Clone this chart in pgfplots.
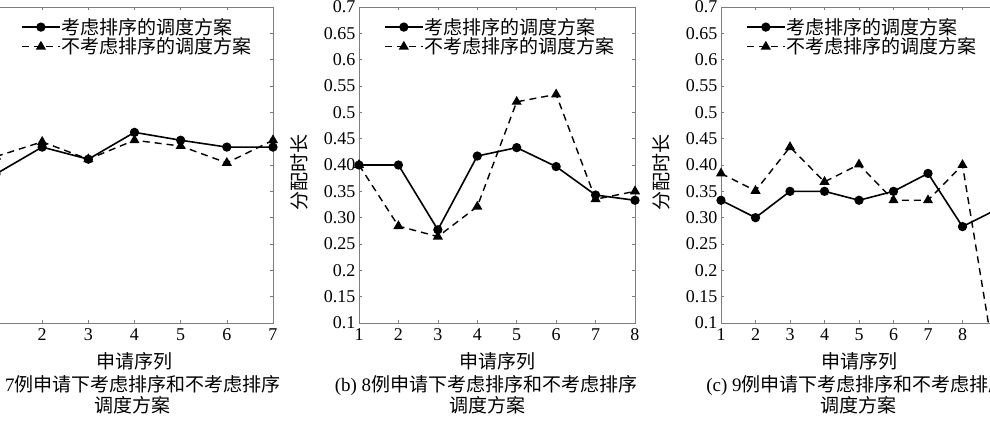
\documentclass[border=0pt]{standalone}
\usepackage{fontspec}
\setmainfont{Liberation Serif}
\newfontfamily\cjk{Noto Sans CJK SC}
\usepackage{pgfplots}
\pgfplotsset{compat=1.18}
\definecolor{framegray}{RGB}{125,125,125}
\pgfplotsset{
  myax/.style={
    scale only axis, width=276pt, height=316pt, anchor=south west,
    ymin=0.1, ymax=0.7, xmin=1,
    ytick={0.1,0.15,0.2,0.25,0.3,0.35,0.4,0.45,0.5,0.55,0.6,0.65,0.7},
    yticklabels={0.1,0.15,0.2,0.25,0.30,0.35,0.40,0.45,0.5,0.55,0.6,0.65,0.7},
    xtick={1,...,9},
    axis line style={framegray, line width=0.8pt},
    tick style={framegray, line width=0.6pt},
    major tick length=3pt,
    tick align=inside,
    ticklabel style={font=\fontsize{18}{20}\selectfont, text=black},
    /pgf/number format/assume math mode=true,
    xticklabel style={yshift=-2pt},
    xlabel={\cjk 申请序列}, ylabel={\cjk 分配时长},
    label style={font=\fontsize{19}{21}\selectfont},
    xlabel style={at={(axis description cs:0.5,-0.12)}, anchor=center},
    ylabel style={at={(axis description cs:-0.215,0.476)}, anchor=center},
    legend style={at={(axis description cs:0.09,0.968)}, anchor=north west, draw=none, fill=none, inner sep=0pt,
      font=\fontsize{19}{21}\selectfont\cjk, nodes={inner sep=1pt}, row sep=0pt},
    legend cell align=left,
    legend image code/.code={\draw[mark repeat=2,mark phase=2] plot coordinates {(0pt,0pt)(19pt,0pt)(38pt,0pt)};},
  },
  s1/.style={black, solid, line width=1.6pt, mark=*, mark size=3.8pt, mark options={solid}},
  s2/.style={black, line width=1.4pt, dash pattern=on 7pt off 5pt, mark=triangle*, mark size=4.5pt, mark options={solid}},
}
\begin{document}
\begin{tikzpicture}
\useasboundingbox (0pt,0pt) rectangle (990pt,422pt);
\clip (0pt,0pt) rectangle (990pt,422pt);
% (a)
\begin{axis}[myax, at={(-4pt,99pt)}, width=277pt, xmax=7]
\addplot[s1] coordinates {(1,0.383)(2,0.434)(3,0.411)(4,0.462)(5,0.447)(6,0.434)(7,0.434)};
\addplot[s2] coordinates {(1,0.416)(2,0.444)(3,0.411)(4,0.447)(5,0.436)(6,0.404)(7,0.447)};
\legend{考虑排序的调度方案,不考虑排序的调度方案}
\end{axis}
% (b)
\begin{axis}[myax, at={(359pt,99pt)}, xmax=8]
\addplot[s1] coordinates {(1,0.4)(2,0.4)(3,0.277)(4,0.417)(5,0.433)(6,0.397)(7,0.343)(8,0.333)};
\addplot[s2] coordinates {(1,0.4)(2,0.284)(3,0.264)(4,0.321)(5,0.52)(6,0.534)(7,0.335)(8,0.35)};
\legend{考虑排序的调度方案,不考虑排序的调度方案}
\end{axis}
% (c)
\begin{axis}[myax, at={(721pt,99pt)}, xmax=9]
\addplot[s1] coordinates {(1,0.333)(2,0.3)(3,0.35)(4,0.35)(5,0.333)(6,0.35)(7,0.384)(8,0.283)(9,0.316)};
\addplot[s2] coordinates {(1,0.384)(2,0.351)(3,0.434)(4,0.368)(5,0.401)(6,0.333)(7,0.333)(8,0.4)(9,0.0)};
\legend{考虑排序的调度方案,不考虑排序的调度方案}
\end{axis}
\begin{scope}[every node/.style={font=\fontsize{19}{21}\selectfont, inner sep=0pt}]
\node at (130pt,37pt) {(a) 7{\cjk 例申请下考虑排序和不考虑排序}};
\node at (132pt,17pt) {\cjk 调度方案};
\node at (486pt,37pt) {(b) 8{\cjk 例申请下考虑排序和不考虑排序}};
\node at (487pt,17pt) {\cjk 调度方案};
\node at (857pt,37pt) {(c) 9{\cjk 例申请下考虑排序和不考虑排序}};
\node at (858pt,17pt) {\cjk 调度方案};
\end{scope}
\end{tikzpicture}
\end{document}
